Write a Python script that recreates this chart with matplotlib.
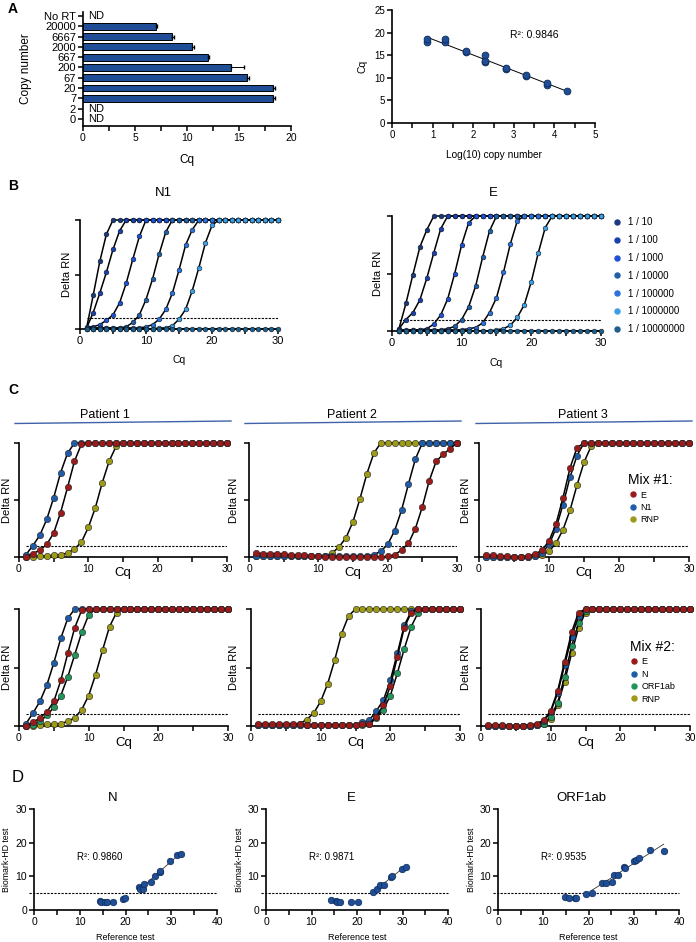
import matplotlib
matplotlib.use('Agg')
import matplotlib.pyplot as plt
from matplotlib.lines import Line2D
from matplotlib.ticker import MultipleLocator
import numpy as np

plt.rcParams['font.family'] = ['Liberation Sans', 'DejaVu Sans']

# ---------------- data ----------------
# A: standard curve
copy_labels = ['0', '2', '7', '20', '67', '200', '667', '2000', '6667', '20000', 'No RT']
copy_cq = [None, None, 18.3, 18.3, 15.8, 14.2, 12.0, 10.5, 8.6, 7.0, None]
copy_err = [0, 0, 0.15, 0.15, 0.2, 1.3, 0.15, 0.15, 0.15, 0.1, 0]

std_logc = [0.85, 0.85, 1.3, 1.3, 1.82, 1.82, 2.3, 2.3, 2.3, 2.82, 2.82, 3.3, 3.3, 3.82, 3.82, 4.3]
std_cq = [18.0, 18.5, 18.0, 18.5, 15.7, 15.9, 13.5, 13.8, 15.0, 12.0, 12.2, 10.3, 10.6, 8.5, 8.8, 7.0]

# B: dilution series, normalised delta RN per cycle (1..30)
cycles = list(range(1, 31))
dil_labels = ['1 / 10', '1 / 100', '1 / 1000', '1 / 10000', '1 / 100000', '1 / 1000000', '1 / 10000000']
dil_colors = ['#1b3a7c', '#1a3fae', '#1f50d8', '#1f5fa6', '#2a72de', '#3aa0e6', '#1f5f8c']

n1_curves = [
    [.01, .31, .62, .87, 1, 1, 1, 1, 1, 1, 1, 1, 1, 1, 1, 1, 1, 1, 1, 1, 1, 1, 1, 1, 1, 1, 1, 1, 1, 1],
    [.01, .15, .33, .52, .73, .90, 1, 1, 1, 1, 1, 1, 1, 1, 1, 1, 1, 1, 1, 1, 1, 1, 1, 1, 1, 1, 1, 1, 1, 1],
    [.02, .02, .04, .08, .13, .24, .42, .64, .85, 1, 1, 1, 1, 1, 1, 1, 1, 1, 1, 1, 1, 1, 1, 1, 1, 1, 1, 1, 1, 1],
    [.01, .01, .01, .01, .01, .01, .02, .06, .13, .27, .46, .69, .89, 1, 1, 1, 1, 1, 1, 1, 1, 1, 1, 1, 1, 1, 1, 1, 1, 1],
    [0, 0, .01, .01, .01, .01, .01, .01, .01, .02, .04, .09, .18, .33, .54, .77, .91, 1, 1, 1, 1, 1, 1, 1, 1, 1, 1, 1, 1, 1],
    [0, 0, 0, 0, 0, 0, 0, 0, 0, 0, 0, .01, .01, .03, .09, .18, .35, .56, .79, .95, 1, 1, 1, 1, 1, 1, 1, 1, 1, 1],
    [0, 0, 0, 0, 0, 0, 0, 0, 0, 0, 0, 0, 0, 0, 0, 0, 0, 0, 0, 0, 0, 0, 0, 0, 0, 0, 0, 0, 0, 0],
]
e_curves = [
    [.02, .24, .49, .73, .88, 1, 1, 1, 1, 1, 1, 1, 1, 1, 1, 1, 1, 1, 1, 1, 1, 1, 1, 1, 1, 1, 1, 1, 1, 1],
    [.02, .10, .16, .27, .46, .68, .89, 1, 1, 1, 1, 1, 1, 1, 1, 1, 1, 1, 1, 1, 1, 1, 1, 1, 1, 1, 1, 1, 1, 1],
    [.01, .01, .01, .01, .02, .06, .14, .28, .50, .75, .94, 1, 1, 1, 1, 1, 1, 1, 1, 1, 1, 1, 1, 1, 1, 1, 1, 1, 1, 1],
    [0, 0, .01, .01, .01, .01, .01, .02, .04, .10, .21, .39, .64, .87, 1, 1, 1, 1, 1, 1, 1, 1, 1, 1, 1, 1, 1, 1, 1, 1],
    [0, 0, 0, 0, 0, 0, 0, .01, .01, .01, .02, .03, .07, .16, .29, .51, .76, .96, 1, 1, 1, 1, 1, 1, 1, 1, 1, 1, 1, 1],
    [0, 0, 0, 0, 0, 0, 0, 0, 0, 0, 0, 0, 0, 0, .01, .02, .05, .12, .23, .43, .68, .90, 1, 1, 1, 1, 1, 1, 1, 1],
    [0, 0, 0, 0, 0, 0, 0, 0, 0, 0, 0, 0, 0, 0, 0, 0, 0, 0, 0, 0, 0, 0, 0, 0, 0, 0, 0, 0, 0, 0],
]

# C: patient samples
col_E, col_N, col_RNP, col_ORF = '#9b1b1b', '#1f5ca8', '#9c9a16', '#21955a'

# mix 1 (drawn RNP, N1, E)
mix1 = {
    'Patient 1': {
        'RNP': [0, 0, .01, .01, .015, .02, .035, .07, .13, .26, .43, .65, .84, .97, 1, 1, 1, 1, 1, 1, 1, 1, 1, 1, 1, 1, 1, 1, 1, 1],
        'N1': [.02, .10, .19, .33, .52, .74, .91, 1, 1, 1, 1, 1, 1, 1, 1, 1, 1, 1, 1, 1, 1, 1, 1, 1, 1, 1, 1, 1, 1, 1],
        'E': [0, .03, .06, .11, .21, .39, .61, .84, .99, 1, 1, 1, 1, 1, 1, 1, 1, 1, 1, 1, 1, 1, 1, 1, 1, 1, 1, 1, 1, 1],
    },
    'Patient 2': {
        'RNP': [.01, .01, .01, .01, .01, .01, .01, .01, .01, .01, .01, .035, .09, .17, .31, .51, .73, .91, 1, 1, 1, 1, 1, 1, 1, 1, 1, 1, 1, 1],
        'N1': [.01, .01, .01, .01, .01, .01, .01, .01, .01, .01, .01, .01, .01, .01, .01, .01, .01, .02, .05, .11, .23, .41, .64, .86, 1, 1, 1, 1, 1, 1],
        'E': [.035, .03, .03, .03, .025, .02, .02, .015, .01, .01, 0, 0, 0, 0, 0, 0, 0, 0, 0, .005, .02, .06, .12, .25, .44, .67, .84, .90, .95, 1],
    },
    'Patient 3': {
        'RNP': [0, 0, 0, 0, 0, 0, 0, .01, .015, .05, .12, .24, .41, .63, .83, .97, 1, 1, 1, 1, 1, 1, 1, 1, 1, 1, 1, 1, 1, 1],
        'N1': [0, 0, 0, 0, 0, 0, 0, .01, .035, .11, .25, .46, .70, .89, 1, 1, 1, 1, 1, 1, 1, 1, 1, 1, 1, 1, 1, 1, 1, 1],
        'E': [.02, .015, .01, .005, 0, 0, .01, .025, .06, .14, .29, .52, .78, .96, 1, 1, 1, 1, 1, 1, 1, 1, 1, 1, 1, 1, 1, 1, 1, 1],
    },
}
# mix 2 (drawn RNP, ORF1ab, N, E)
mix2 = {
    'Patient 1': {
        'RNP': [0, 0, .01, .015, .015, .02, .04, .07, .14, .26, .44, .65, .85, .97, 1, 1, 1, 1, 1, 1, 1, 1, 1, 1, 1, 1, 1, 1, 1, 1],
        'ORF1ab': [0, .01, .04, .09, .16, .26, .42, .61, .80, .95, 1, 1, 1, 1, 1, 1, 1, 1, 1, 1, 1, 1, 1, 1, 1, 1, 1, 1, 1, 1],
        'N': [.02, .11, .21, .35, .54, .75, .92, 1, 1, 1, 1, 1, 1, 1, 1, 1, 1, 1, 1, 1, 1, 1, 1, 1, 1, 1, 1, 1, 1, 1],
        'E': [0, .03, .07, .12, .21, .39, .62, .84, .99, 1, 1, 1, 1, 1, 1, 1, 1, 1, 1, 1, 1, 1, 1, 1, 1, 1, 1, 1, 1, 1],
    },
    'Patient 2': {
        'RNP': [.01, .01, .01, .01, .01, .01, .02, .055, .11, .21, .36, .56, .79, .94, 1, 1, 1, 1, 1, 1, 1, 1, 1, 1, 1, 1, 1, 1, 1, 1],
        'ORF1ab': [.01, .01, .01, .01, .01, .01, .01, .01, .01, .01, .01, .01, .01, .01, .01, .01, .015, .07, .14, .26, .45, .66, .85, .97, 1, 1, 1, 1, 1, 1],
        'N': [.01, .01, .01, .01, .01, .01, .01, .01, .01, .01, .01, .01, .01, .01, .01, .03, .05, .13, .22, .39, .62, .86, .98, 1, 1, 1, 1, 1, 1, 1],
        'E': [.02, .02, .02, .02, .02, .02, .02, .01, .01, .01, .01, .01, .01, .01, .01, .02, .02, .08, .18, .34, .59, .84, .97, 1, 1, 1, 1, 1, 1, 1],
    },
    'Patient 3': {
        'RNP': [0, 0, 0, 0, 0, 0, 0, .01, .02, .06, .18, .38, .62, .84, .97, 1, 1, 1, 1, 1, 1, 1, 1, 1, 1, 1, 1, 1, 1, 1],
        'ORF1ab': [0, 0, 0, 0, 0, 0, 0, .01, .02, .08, .20, .42, .68, .88, .98, 1, 1, 1, 1, 1, 1, 1, 1, 1, 1, 1, 1, 1, 1, 1],
        'N': [0, 0, 0, 0, 0, 0, 0, .01, .04, .12, .28, .52, .76, .94, 1, 1, 1, 1, 1, 1, 1, 1, 1, 1, 1, 1, 1, 1, 1, 1],
        'E': [.01, .01, .01, 0, 0, 0, .01, .02, .05, .13, .30, .55, .80, .97, 1, 1, 1, 1, 1, 1, 1, 1, 1, 1, 1, 1, 1, 1, 1, 1],
    },
}
mix1_colors = {'E': col_E, 'N1': col_N, 'RNP': col_RNP}
mix2_colors = {'E': col_E, 'N': col_N, 'ORF1ab': col_ORF, 'RNP': col_RNP}
mix1_legend = ['E', 'N1', 'RNP']
mix2_legend = ['E', 'N', 'ORF1ab', 'RNP']

# D: correlation with reference test
d_titles = ['N', 'E', 'ORF1ab']
d_r2 = ['0.9860', '0.9871', '0.9535']
d_ref = [
    [14.4, 14.7, 15.5, 16.0, 17.3, 19.5, 19.9, 23.0, 23.2, 23.8, 24.0, 25.5, 26.5, 27.5, 27.6, 29.7, 31.2, 32.1],
    [14.2, 15.3, 15.5, 16.2, 18.6, 20.2, 23.5, 24.5, 25.0, 25.9, 27.5, 27.6, 29.8, 30.7],
    [14.8, 15.7, 17.0, 17.2, 19.4, 20.7, 22.9, 23.8, 25.1, 25.6, 26.6, 27.9, 28.0, 30.1, 30.4, 31.1, 33.7, 36.6],
]
d_bio = [
    [2.8, 2.5, 2.4, 2.4, 2.4, 3.3, 3.5, 6.7, 6.2, 6.3, 7.7, 8.3, 10.2, 11.2, 11.6, 14.6, 16.3, 16.6],
    [3.0, 2.7, 2.3, 2.5, 2.5, 2.5, 5.4, 6.1, 7.4, 7.4, 9.7, 10.0, 12.2, 12.9],
    [3.8, 3.5, 3.5, 3.7, 4.8, 5.1, 8.1, 8.1, 8.4, 10.4, 10.4, 12.9, 12.4, 14.7, 15.0, 15.5, 17.8, 17.4],
]
d_fit_from = [23.0, 23.5, 19.5]

# ---------------- figure ----------------
W, H = 696, 942
fig = plt.figure(figsize=(W / 100, H / 100), dpi=100)


def px_ax(x0, y0, x1, y1):
    # box in pixels, origin top-left
    ax = fig.add_axes([x0 / W, 1 - y1 / H, (x1 - x0) / W, (y1 - y0) / H])
    ax._pxbox = (x0, y0, x1, y1)
    return ax


def ftext(x, y, s, **kw):
    return fig.text(x / W, 1 - y / H, s, **kw)


def xlab(ax, s, ypx, fs):
    x0, y0, x1, y1 = ax._pxbox
    ax.set_xlabel(s, fontsize=fs)
    ax.xaxis.set_label_coords(0.5, (y1 - ypx) / (y1 - y0))
    ax.xaxis.label.set_va('center')


def ylab(ax, s, xpx, fs):
    x0, y0, x1, y1 = ax._pxbox
    ax.set_ylabel(s, fontsize=fs)
    ax.yaxis.set_label_coords((xpx - x0) / (x1 - x0), 0.5)
    ax.yaxis.label.set_va('center')


def style(ax, fs=7.5):
    for s in ['top', 'right']:
        ax.spines[s].set_visible(False)
    for s in ['left', 'bottom']:
        ax.spines[s].set_linewidth(1.2)
    ax.tick_params(which='both', direction='out', width=1.1, length=3.5, labelsize=fs, pad=1.5)


dblue = '#1f4e96'

# ---- A left: bar chart
ax = px_ax(83, 12, 291, 126)
style(ax, 7.5)
ax.tick_params(axis='y', labelsize=8)
ypos = np.arange(len(copy_labels))
for i, (cq, err) in enumerate(zip(copy_cq, copy_err)):
    if cq is None:
        ax.text(0.45, i, 'ND', va='center', ha='left', fontsize=8)
        continue
    ax.barh(i, cq, height=0.68, color=dblue, edgecolor='black', linewidth=0.7)
    ax.errorbar(cq, i, xerr=[[0], [err]], fmt='none', ecolor='black', elinewidth=0.7, capsize=1.2)
ax.set_yticks(ypos)
ax.set_yticklabels(copy_labels)
ax.set_ylim(-0.7, 10.4)
ax.set_xlim(0, 20)
ax.xaxis.set_major_locator(MultipleLocator(5))
ax.xaxis.set_minor_locator(MultipleLocator(2.5))
xlab(ax, 'Cq', 160, 8.5)
ylab(ax, 'Copy number', 26, 8.5)

# ---- A right: standard curve
ax = px_ax(392, 10, 595, 123)
style(ax, 7)
ax.scatter(std_logc, std_cq, s=24, color=dblue, edgecolor='#0c2b5a', linewidth=0.6, zorder=3, clip_on=False)
k, b = np.polyfit(std_logc, std_cq, 1)
xl = np.array([min(std_logc), max(std_logc)])
ax.plot(xl, k * xl + b, color='black', lw=0.7, zorder=2)
ax.set_xlim(0, 5)
ax.set_ylim(0, 25)
ax.xaxis.set_major_locator(MultipleLocator(1))
ax.xaxis.set_minor_locator(MultipleLocator(0.5))
ax.yaxis.set_major_locator(MultipleLocator(5))
xlab(ax, 'Log(10) copy number', 155, 7.3)
ylab(ax, 'Cq', 363, 7.5)
ax.text(2.9, 19.5, 'R²: 0.9846', fontsize=7.5, va='center')


# ---- B: amplification curves of dilutions
def amp_axes(box, fs=8):
    ax = px_ax(*box)
    style(ax, fs)
    ax.set_xlim(0, 30)
    ax.set_ylim(0, 1)
    ax.set_xticks([0, 10, 20, 30])
    ax.xaxis.set_minor_locator(MultipleLocator(5))
    ax.set_yticks([0, 0.5, 1])
    ax.set_yticklabels([])
    ax.hlines(0.1, 1, 30, colors='black', linestyles=(0, (2, 1.2)), lw=0.8, zorder=1)
    return ax


for box, curves, title, tx, cqy, dx in [((80, 220, 278, 329), n1_curves, 'N1', 163, 360, 67),
                                        ((392, 216, 601, 331), e_curves, 'E', 493, 363, 378)]:
    ax = amp_axes(box)
    for ys, c in zip(curves, dil_colors):
        ax.plot(cycles, ys, color='black', lw=1.1, marker='o', ms=3.4, mfc=c, mec='#101820',
                mew=0.4, clip_on=False, zorder=3)
    xlab(ax, 'Cq', cqy, 7.5)
    ylab(ax, 'Delta RN', dx, 8)
    ftext(tx, 193, title, fontsize=9.5, ha='center', va='center')

handles = [Line2D([], [], ls='', marker='o', ms=3.6, mfc=c, mec=c) for c in dil_colors]
ax.legend(handles, dil_labels, loc='upper left', bbox_to_anchor=(1.03, 1.03), frameon=False,
          fontsize=7, labelspacing=0.8, handletextpad=0.6, handlelength=1.0, borderpad=0)


# ---- C: patients
def c_panel(box, data, colors, cq_px, dx):
    ax = amp_axes(box, fs=7.5)
    for name, ys in data.items():
        ax.plot(cycles, ys, color='black', lw=1.1, marker='o', ms=4.6, mfc=colors[name], mec='#202020',
                mew=0.4, clip_on=False, zorder=3)
    ylab(ax, 'Delta RN', dx, 8)
    xlab(ax, 'Cq', cq_px, 9.5)
    return ax


row1_boxes = [(19, 443, 227, 557), (249, 443, 457, 557), (479, 443, 689, 557)]
row2_boxes = [(19, 609, 228, 726), (251, 609, 460, 726), (481, 609, 690, 726)]
ylab_x = [7, 234, 466]
patients = ['Patient 1', 'Patient 2', 'Patient 3']
title_x = [105, 352, 583]
line_x = [(15, 231), (245, 461), (476, 692)]

for i, p in enumerate(patients):
    ftext(title_x[i], 415, p, fontsize=9, ha='center', va='center')
    x0, x1 = line_x[i]
    fig.add_artist(Line2D([x0 / W, x1 / W], [1 - 423.5 / H, 1 - 421 / H], transform=fig.transFigure,
                          color='#3f62aa', lw=1.0))
    a1 = c_panel(row1_boxes[i], mix1[p], mix1_colors, 573, ylab_x[i])
    a2 = c_panel(row2_boxes[i], mix2[p], mix2_colors, 743, ylab_x[i])

for ax_, names, cols, title in [(a1, mix1_legend, mix1_colors, 'Mix #1:'),
                                (a2, mix2_legend, mix2_colors, 'Mix #2:')]:
    hs = [Line2D([], [], ls='', marker='o', ms=3.6, mfc=cols[n], mec=cols[n]) for n in names]
    ax_.legend(hs, names, title=title, loc='upper left', bbox_to_anchor=(0.69, 0.775), frameon=False,
               fontsize=6.5, title_fontsize=10, labelspacing=0.38, handletextpad=0.3,
               handlelength=1.0, borderpad=0, alignment='left')

# ---- D: correlation plots
d_boxes = [(34, 809, 217, 910), (266, 809, 448, 910), (498, 809, 679, 910)]
d_title_x = [113, 351, 581]
for i in range(3):
    ax = px_ax(*d_boxes[i])
    style(ax, fs=7.5)
    ax.set_xlim(0, 40)
    ax.set_ylim(0, 30)
    ax.xaxis.set_major_locator(MultipleLocator(10))
    ax.xaxis.set_minor_locator(MultipleLocator(5))
    ax.yaxis.set_major_locator(MultipleLocator(10))
    ax.plot([-1.2, 40], [5, 5], color='black', ls=(0, (2, 1.2)), lw=0.8, clip_on=False, zorder=1)
    xr = np.array(d_ref[i])
    yb = np.array(d_bio[i])
    sel = xr >= d_fit_from[i]
    k, b = np.polyfit(xr[sel], yb[sel], 1)
    xl = np.array([xr[sel].min(), xr[sel].max()])
    ax.plot(xl, k * xl + b, color='#333333', lw=0.6, zorder=2)
    ax.scatter(xr, yb, s=22, color=dblue, edgecolor='#0c2b5a', linewidth=0.5, zorder=3)
    ax.text(9.5, 15.8, 'R²: ' + d_r2[i], fontsize=7, va='center')
    xlab(ax, 'Reference test', 938, 6.5)
    ylab(ax, 'Biomark-HD test', d_boxes[i][0] - 27, 6.3)
    ftext(d_title_x[i], 798, d_titles[i], fontsize=9.5, ha='center', va='center')

# panel letters
ftext(13, 9, 'A', fontsize=10, fontweight='bold', ha='center', va='center')
ftext(13, 186, 'B', fontsize=10, fontweight='bold', ha='center', va='center')
ftext(13, 390, 'C', fontsize=10, fontweight='bold', ha='center', va='center')
ftext(18, 778, 'D', fontsize=12, ha='center', va='center')

fig.savefig('out.png', dpi=100)
